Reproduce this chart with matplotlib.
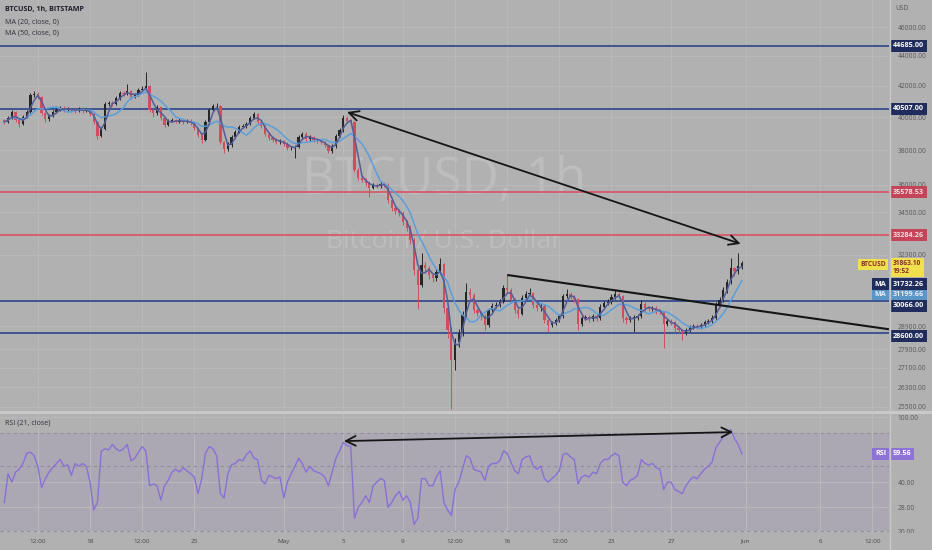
import numpy as np
import pandas as pd
import matplotlib
matplotlib.use('Agg')
import matplotlib.pyplot as plt
import matplotlib.dates as mdates
from matplotlib.ticker import FixedLocator, NullLocator
from matplotlib.patches import Rectangle
from matplotlib.lines import Line2D

plt.rcParams['font.family'] = ['Open Sans', 'DejaVu Sans']

start = '2022-04-12 03:00'
first_open = 39800
closes = [
    39690, 39940, 40310, 39810, 39570, 40000, 40310, 41390, 41450, 41260,
    40250, 39870, 40060, 40310, 40440, 40570, 40440, 40500, 40440, 40380,
    40500, 40380, 40440, 40190, 39690, 38840, 39260, 40820, 40880, 40820,
    41200, 41520, 41450, 41650, 41260, 41390, 41710, 41780, 41970, 40440,
    40250, 40630, 39940, 39510, 39750, 39810, 39690, 39810, 39690, 39750,
    39630, 39320, 38900, 38600, 39690, 40440, 40690, 40690, 38480, 38060,
    38300, 38780, 39080, 39390, 39450, 39570, 39940, 40190, 39690, 39450,
    38960, 38720, 38600, 38480, 38540, 38360, 38120, 38120, 38180, 38780,
    38960, 38660, 38780, 38600, 38540, 38480, 38300, 37940, 38240, 38840,
    39200, 39940, 39750, 39690, 36840, 36390, 36280, 36110, 35830, 36000,
    35940, 36060, 36000, 35160, 34730, 34570, 34460, 33980, 33670, 33050,
    31540, 30820, 31790, 31640, 31300, 31150, 31440, 31830, 29730, 28730,
    27420, 28200, 28600, 29410, 30480, 30340, 29640, 29500, 29360, 28950,
    29640, 29820, 29870, 30010, 30670, 30580, 30100, 29640, 29460, 30200,
    30390, 30440, 29870, 29730, 29820, 29180, 28950, 29040, 29180, 29360,
    30290, 30390, 30250, 30150, 29000, 29270, 29320, 29220, 29360, 29270,
    29780, 29960, 30010, 30250, 30390, 30290, 29270, 29180, 29270, 29320,
    29360, 29920, 29730, 29680, 29730, 29590, 29550, 29000, 29140, 29090,
    28820, 28730, 28600, 28730, 28860, 28910, 28860, 28950, 29090, 29140,
    29270, 29870, 30100, 30580, 30960, 31640, 31490, 31740, 31863.10,
]
highs = [
    39900, 40060, 40420, 40380, 39900, 40110, 40420, 41520, 41620, 41560,
    41320, 40330, 40180, 40420, 40560, 40700, 40660, 40620, 40590, 40550,
    40620, 40600, 40560, 40520, 40260, 39780, 39400, 40950, 41000, 40980,
    41350, 41650, 41620, 42100, 41720, 41520, 41850, 41950, 42900, 42050,
    40550, 40750, 40700, 40000, 39880, 39920, 39900, 39930, 39880, 39860,
    39850, 39700, 39400, 38980, 39800, 40560, 40820, 40850, 40750, 38550,
    38450, 38900, 39200, 39520, 39580, 39700, 40080, 40320, 40250, 39760,
    39520, 39050, 38820, 38700, 38660, 38620, 38450, 38250, 38300, 38900,
    39100, 39050, 38900, 38860, 38700, 38620, 38560, 38380, 38360, 38960,
    39330, 40150, 40050, 39850, 39760, 36950, 36480, 36380, 36200, 36130,
    36100, 36200, 36180, 36080, 35250, 34850, 34650, 34550, 34100, 33800,
    33150, 31700, 32400, 31950, 31750, 31400, 31600, 32130, 31900, 29850,
    28850, 28400, 28800, 29600, 30890, 30650, 30420, 29750, 29600, 29450,
    29750, 29950, 30000, 30150, 30800, 31300, 30650, 30180, 29720, 30330,
    30520, 30650, 30500, 29950, 29950, 29900, 29250, 29150, 29300, 29480,
    30400, 30620, 30500, 30350, 30220, 29380, 29430, 29420, 29460, 29450,
    29900, 30080, 30150, 30380, 30580, 30480, 30350, 29350, 29380, 29420,
    29470, 30100, 30000, 29820, 29850, 29820, 29680, 29620, 29250, 29230,
    29150, 28900, 28800, 28830, 28950, 29000, 29000, 29050, 29200, 29250,
    29400, 30000, 30250, 30700, 31100, 32130, 31700, 32380, 32000,
]
lows = [
    39560, 39600, 39850, 39700, 39400, 39500, 39920, 40250, 41250, 41150,
    40150, 39700, 39780, 39980, 40230, 40360, 40330, 40360, 40330, 40280,
    40290, 40280, 40290, 40080, 39560, 38650, 38750, 39180, 40700, 40700,
    40740, 41100, 41330, 41380, 41150, 41180, 41300, 41620, 41700, 40300,
    40000, 40150, 39800, 39380, 39450, 39680, 39600, 39620, 39560, 39600,
    39520, 39200, 38780, 38420, 38520, 39600, 40350, 40550, 38350, 37850,
    37950, 38200, 38700, 39000, 39300, 39350, 39480, 39850, 39580, 39330,
    38850, 38600, 38480, 38380, 38380, 38250, 38000, 38000, 37540, 38100,
    38680, 38550, 38560, 38500, 38430, 38360, 38200, 37850, 37850, 38150,
    38760, 39100, 39650, 39580, 36700, 36250, 36150, 35950, 35330, 35750,
    35830, 35850, 35880, 35000, 34580, 34420, 34300, 33820, 33500, 32850,
    31300, 29700, 30700, 31400, 31100, 30950, 31000, 31350, 29500, 28400,
    25400, 27000, 28000, 28450, 29300, 30150, 29500, 29350, 29200, 28750,
    28850, 29550, 29720, 29780, 29950, 30450, 29980, 29500, 29300, 29400,
    30100, 30300, 29750, 29600, 29620, 29050, 28650, 28850, 28950, 29100,
    29280, 30200, 30150, 30000, 28750, 28900, 29180, 29100, 29120, 29160,
    29200, 29700, 29880, 29930, 30150, 30180, 29100, 29000, 29080, 28650,
    29200, 29280, 29620, 29580, 29600, 29480, 29440, 27950, 28900, 28980,
    28700, 28600, 28290, 28500, 28650, 28780, 28770, 28790, 28880, 29000,
    29050, 29200, 29780, 30000, 30450, 30850, 31250, 31350, 31600,
]
# RSI (21, close) read at the same 6h steps
rsi_vals = [
    30, 45, 40, 46, 48, 52, 60, 61, 58, 50,
    37, 42, 46, 49, 52, 55, 50, 51, 44, 52,
    50, 52, 50, 40, 27, 30, 62, 64, 63, 68,
    64, 62, 64, 68, 54, 56, 61, 66, 62, 38,
    39, 38, 31, 38, 41, 46, 48, 46, 49, 47,
    45, 43, 34, 42, 60, 66, 64, 58, 34, 32,
    45, 51, 52, 55, 54, 59, 62, 56, 55, 41,
    39, 44, 43, 42, 43, 32, 40, 45, 50, 56,
    52, 46, 50, 47, 46, 45, 43, 38, 46, 56,
    62, 70, 67, 66, 24, 28, 30, 33, 30, 38,
    40, 42, 41, 28, 30, 33, 35, 31, 33, 30,
    22, 24, 42, 42, 38, 38, 43, 47, 30, 27,
    25, 36, 40, 48, 58, 56, 48, 47, 46, 41,
    50, 52, 52, 54, 62, 60, 53, 47, 45, 55,
    57, 58, 50, 48, 50, 42, 40, 42, 44, 47,
    59, 60, 57, 55, 39, 43, 44, 43, 46, 45,
    52, 55, 55, 58, 60, 58, 40, 38, 41, 42,
    44, 55, 52, 51, 52, 49, 48, 36, 40, 40,
    36, 35, 34, 38, 41, 43, 42, 45, 48, 50,
    53, 65, 70, 76, 78, 84, 74, 68, 59.56,
]

levels_blue = [44685.00, 40507.00, 30066.00, 28600.00]
levels_red = [35578.53, 33284.26]
ma20_last = 31732.26
ma50_last = 31199.66

price_ticks = [46000, 44000, 42000, 40000, 38000, 36000, 34500, 32300,
               28900, 27900, 27100, 26300, 25500]
rsi_ticks = [100, 40, 28, 20]
rsi_bands = [80, 50, 20]
xtick_dates = ['2022-04-14 12:00', '2022-04-18', '2022-04-21 12:00', '2022-04-25',
               '2022-05-01', '2022-05-05', '2022-05-09', '2022-05-12 12:00',
               '2022-05-16', '2022-05-19 12:00', '2022-05-23', '2022-05-27',
               '2022-06-01', '2022-06-06', '2022-06-09 12:00']
xtick_labels = ['12:00', '18', '12:00', '25', 'May', '5', '9', '12:00', '16',
                '12:00', '23', '27', 'Jun', '6', '12:00']

# hand drawn lines on the chart
arrow_price = [('2022-05-05 06:00', 40310), ('2022-05-31 16:00', 32850)]
trend_price = [('2022-05-16 00:00', 31300), ('2022-06-10 15:00', 28770)]
arrow_rsi = [('2022-05-05 01:00', 71.3), ('2022-05-31 04:00', 81.0)]

BG = '#b1b1b1'
GRID = '#bababa'
UP = '#262626'
DOWN = '#d24d5c'
MA20_C = '#535d9a'
MA50_C = '#5a9fdc'
BLUE_L = '#3d5592'
BLUE_T = '#1f2c5c'
RED_L = '#d6606d'
RED_T = '#c44558'
RSI_C = '#8b6fd8'

W, H = 932, 550
fig = plt.figure(figsize=(W / 100, H / 100), dpi=100, facecolor=BG)
ax = fig.add_axes([0, 1 - 410 / H, 889 / W, 410 / H], facecolor=BG)
ax2 = fig.add_axes([0, 1 - 533 / H, 889 / W, 120 / H], facecolor=BG)

t = pd.date_range(start, periods=len(closes), freq='6h') + pd.Timedelta(hours=3)
x = mdates.date2num(t)
c = pd.Series(closes, dtype=float)
o = pd.Series([first_open] + closes[:-1], dtype=float)
col = np.where(c >= o, UP, DOWN)

ax.vlines(x, lows, highs, colors=col, lw=0.7, zorder=3)
body = np.maximum((c - o).abs(), 20)
ax.bar(x, body, width=0.15, bottom=np.minimum(o, c), color=col, lw=0, zorder=3)

# moving averages (1h lengths turned into 6h bars)
ma20 = c.rolling(round(20 / 6), min_periods=1).mean()
ma50 = c.rolling(round(50 / 6), min_periods=1).mean()
ax.plot(x, ma50, color=MA50_C, lw=1.1, zorder=4)
ax.plot(x, ma20, color=MA20_C, lw=1.1, zorder=4)

for lv in levels_blue:
    ax.axhline(lv, color=BLUE_L, lw=1.4, zorder=2)
for lv in levels_red:
    ax.axhline(lv, color=RED_L, lw=1.4, zorder=2)

d = lambda s: mdates.date2num(pd.Timestamp(s))
ax.annotate('', xy=(d(arrow_price[1][0]), arrow_price[1][1]),
            xytext=(d(arrow_price[0][0]), arrow_price[0][1]),
            arrowprops=dict(arrowstyle='<->,head_length=0.7,head_width=0.35',
                            color='#151515', lw=1.3, shrinkA=0, shrinkB=0), zorder=6)
ax.plot([d(p[0]) for p in trend_price], [p[1] for p in trend_price],
        color='#151515', lw=1.5, zorder=6, solid_capstyle='butt')

ax.set_yscale('log')
ax.set_ylim(25380, 47970)
ax.yaxis.set_major_locator(FixedLocator(price_ticks))
ax.yaxis.set_minor_locator(NullLocator())
ax.set_yticklabels(['%.2f' % v for v in price_ticks])
ax.yaxis.tick_right()
ax.tick_params(axis='y', length=0, pad=6, labelsize=4.8, labelcolor='#585858')

xlim = (d('2022-04-11 23:00'), d('2022-06-10 15:00'))
xt = [d(s) for s in xtick_dates]
for a in (ax, ax2):
    a.set_xlim(*xlim)
    a.xaxis.set_major_locator(FixedLocator(xt))
    a.grid(True, color=GRID, lw=0.7, zorder=0)
    for sp in a.spines.values():
        sp.set_visible(False)
ax.tick_params(axis='x', length=0, labelbottom=False)
ax2.set_xticklabels(xtick_labels)
ax2.tick_params(axis='x', length=0, pad=4, labelsize=4.6, labelcolor='#454545')

ax.text(0.5, 0.56, 'BTCUSD, 1h', transform=ax.transAxes, ha='center', va='center',
        fontsize=37, color='#bdbdbd', zorder=1)
ax.text(0.5, 0.41, 'Bitcoin / U.S. Dollar', transform=ax.transAxes, ha='center',
        va='center', fontsize=19, color='#bdbdbd', zorder=1)


def tag(a, y, text, fc, tc='white', dy=0, side='right', fs=5.2):
    a.annotate(text, xy=(1, y), xycoords=a.get_yaxis_transform(),
               xytext=(4 if side == 'right' else -3, dy), textcoords='offset pixels',
               ha='left' if side == 'right' else 'right', va='center',
               fontsize=fs, color=tc, fontweight='bold',
               bbox=dict(boxstyle='square,pad=0.35', fc=fc, ec='none'),
               annotation_clip=False, zorder=10)


tag(ax, 44685.00, '44685.00', BLUE_T)
tag(ax, 40507.00, '40507.00', BLUE_T)
tag(ax, 35578.53, '35578.53', RED_T, tc='#f3dde0')
tag(ax, 33284.26, '33284.26', RED_T, tc='#f3dde0')
tag(ax, 28600.00, '28600.00', BLUE_T, dy=-3)
tag(ax, 30066.00, '30066.00', BLUE_T, dy=-5)
tag(ax, ma50_last, '%.2f' % ma50_last, '#5b96c8', tc='#e8eef8', dy=-17)
tag(ax, ma50_last, 'MA', '#5b96c8', tc='#e8eef8', dy=-17, side='left')
tag(ax, ma20_last, '%.2f' % ma20_last, BLUE_T, dy=-18)
tag(ax, ma20_last, 'MA', BLUE_T, dy=-18, side='left')
tag(ax, closes[-1], '%.2f\n19:52' % closes[-1], '#f0e04e', tc='#8a2a2a', dy=-4, fs=4.8)
tag(ax, closes[-1], 'BTCUSD', '#f0e04e', tc='#8a2a2a', dy=-1, side='left', fs=4.8)

# RSI pane
ax2.axhspan(rsi_bands[-1], rsi_bands[0], color='#8a6cc8', alpha=0.13, lw=0, zorder=1)
for b in rsi_bands:
    ax2.axhline(b, color='#8e8e9c', lw=0.8, ls=(0, (3, 3)), zorder=2)
ax2.plot(x, rsi_vals, color=RSI_C, lw=1.0, zorder=4)
ax2.annotate('', xy=(d(arrow_rsi[1][0]), arrow_rsi[1][1]),
             xytext=(d(arrow_rsi[0][0]), arrow_rsi[0][1]),
             arrowprops=dict(arrowstyle='<->,head_length=0.7,head_width=0.35',
                             color='#151515', lw=1.3, shrinkA=0, shrinkB=0), zorder=6)
ax2.set_yscale('log')
ax2.set_ylim(19.5, 106)
ax2.yaxis.set_major_locator(FixedLocator(rsi_ticks))
ax2.yaxis.set_minor_locator(NullLocator())
ax2.set_yticklabels(['%.2f' % v for v in rsi_ticks])
ax2.yaxis.tick_right()
ax2.tick_params(axis='y', length=0, pad=6, labelsize=4.8, labelcolor='#585858')
tag(ax2, rsi_vals[-1], '%.2f' % rsi_vals[-1], '#8f72d6')
tag(ax2, rsi_vals[-1], 'RSI', '#8f72d6', side='left')

# labels and frame lines
fig.text(5 / W, 1 - 10 / H, 'BTCUSD, 1h, BITSTAMP', fontsize=5.1, fontweight='bold',
         color='#1e1e2e', va='center')
fig.text(5 / W, 1 - 22 / H, 'MA (20, close, 0)', fontsize=5.1, color='#2e2e3e', va='center')
fig.text(5 / W, 1 - 33 / H, 'MA (50, close, 0)', fontsize=5.1, color='#2e2e3e', va='center')
fig.text(5 / W, 1 - 423 / H, 'RSI (21, close)', fontsize=5.1, color='#2e2e3e', va='center')
fig.text(895 / W, 1 - 8 / H, 'USD', fontsize=4.8, color='#585858', va='center')

fig.add_artist(Line2D([0, 1], [1 - 411.5 / H] * 2, transform=fig.transFigure,
                      color='#cacaca', lw=2))
fig.add_artist(Line2D([889.5 / W] * 2, [0, 1], transform=fig.transFigure,
                      color='#c6c6c6', lw=1))
fig.add_artist(Rectangle((890 / W, 0), 42 / W, 17 / H, transform=fig.transFigure,
                         fc=BG, ec='none', zorder=1))

fig.savefig('out.png', dpi=100, facecolor=BG)
